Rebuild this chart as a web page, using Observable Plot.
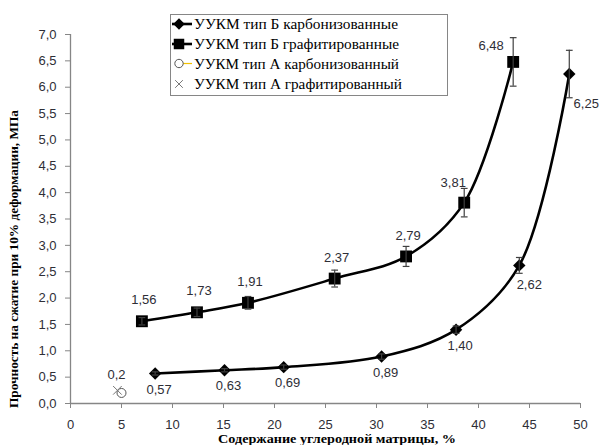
<!DOCTYPE html>
<html><head><meta charset="utf-8">
<script src="https://cdn.jsdelivr.net/npm/d3@7"></script>
<script src="https://cdn.jsdelivr.net/npm/@observablehq/plot@0.6"></script>
<style>html,body{margin:0;padding:0;background:#fff;}</style>
</head><body><div id="chart"></div>
<script>
// ---- data ----
const carbX   = [8.3, 15.1, 20.9, 30.5, 37.8, 44.0, 48.9];
const carbY   = [0.57, 0.63, 0.69, 0.89, 1.40, 2.62, 6.25];
const carbErr = [0.03, 0.03, 0.04, 0.05, 0.07, 0.15, 0.45];
const graphX   = [7.0, 12.4, 17.4, 25.9, 32.9, 38.6, 43.4];
const graphY   = [1.56, 1.73, 1.91, 2.37, 2.79, 3.81, 6.48];
const graphErr = [0.07, 0.08, 0.12, 0.16, 0.19, 0.27, 0.46];
const aCarbX = [5.0],  aCarbY = [0.2];
const aGraphX = [4.6], aGraphY = [0.25];
const seriesNames = [
  "УУКМ тип Б карбонизованные",
  "УУКМ тип Б графитированные",
  "УУКМ тип А карбонизованный",
  "УУКМ тип А графитированный"
];
const xTicks = [0, 5, 10, 15, 20, 25, 30, 35, 40, 45, 50];
const yTicks = [0, 0.5, 1, 1.5, 2, 2.5, 3, 3.5, 4, 4.5, 5, 5.5, 6, 6.5, 7];
const xTitle = "Содержание углеродной матрицы, %";
const yTitle = "Прочность на сжатие при 10% деформации, МПа";

// ---- tables ----
const mk = (xs, ys, es) => xs.map((x, i) => ({x, y: ys[i], lo: ys[i] - (es ? es[i] : 0), hi: ys[i] + (es ? es[i] : 0)}));
const carb = mk(carbX, carbY, carbErr);
const graph = mk(graphX, graphY, graphErr);
const aCarb = mk(aCarbX, aCarbY);
const aGraph = mk(aGraphX, aGraphY);
const fmt2 = d => d.toFixed(2).replace(".", ",");
const fmtA = d => String(d).replace(".", ",");

const cap = {draw(ctx, size) { const w = Math.sqrt(size) / 2; ctx.moveTo(-w, 0); ctx.lineTo(w, 0); }};
const labelFill = "#2e2e36";
const axisGray = "#868686";
const errColor = "#404040";

const lab = (data, fmt, dx, dy) => Plot.text(data, {x: "x", y: "y", text: d => fmt(d.y), dx, dy, fill: labelFill, fontSize: 13});

const chart = Plot.plot({
  width: 601, height: 445,
  marginLeft: 70, marginRight: 21, marginTop: 34, marginBottom: 42,
  style: {fontFamily: "'Liberation Sans', Arial, sans-serif", fontSize: "13px", background: "#fff", overflow: "visible"},
  x: {domain: [0, 50]},
  y: {domain: [0, 7]},
  marks: [
    Plot.axisX({ticks: xTicks, tickSize: 5, tickPadding: 11, tickFormat: d => String(d), label: null, stroke: axisGray, fill: labelFill, fontSize: 13}),
    Plot.axisY({ticks: yTicks, tickSize: 5, tickPadding: 9, tickFormat: d => d.toFixed(1).replace(".", ","), label: null, stroke: axisGray, fill: labelFill, fontSize: 13}),
    Plot.ruleY([0], {stroke: axisGray, strokeWidth: 1.3}),
    Plot.ruleX([0], {stroke: axisGray, strokeWidth: 1.3}),
    Plot.line(graph, {x: "x", y: "y", curve: "catmull-rom", stroke: "#000", strokeWidth: 2.6}),
    Plot.line(carb, {x: "x", y: "y", curve: "catmull-rom", stroke: "#000", strokeWidth: 2.6}),
    Plot.dot(graph, {x: "x", y: "y", symbol: "square", r: 6.7, fill: "#000", stroke: "none"}),
    Plot.dot(carb, {x: "x", y: "y", symbol: d3.symbolDiamond2, r: 5.6, fill: "#000", stroke: "none"}),
    Plot.ruleX(graph, {x: "x", y1: "lo", y2: "hi", stroke: errColor, strokeWidth: 1.2}),
    Plot.ruleX(carb, {x: "x", y1: "lo", y2: "hi", stroke: errColor, strokeWidth: 1.2}),
    Plot.dot(graph, {x: "x", y: "hi", symbol: cap, r: 3.8, stroke: errColor, strokeWidth: 1.2}),
    Plot.dot(graph, {x: "x", y: "lo", symbol: cap, r: 3.8, stroke: errColor, strokeWidth: 1.2}),
    Plot.dot(carb, {x: "x", y: "hi", symbol: cap, r: 3.8, stroke: errColor, strokeWidth: 1.2}),
    Plot.dot(carb, {x: "x", y: "lo", symbol: cap, r: 3.8, stroke: errColor, strokeWidth: 1.2}),
    Plot.dot(aCarb, {x: "x", y: "y", symbol: "circle", r: 4.5, stroke: "#555", strokeWidth: 1, fill: "none"}),
    Plot.dot(aGraph, {x: "x", y: "y", symbol: d3.symbolTimes, r: 4, stroke: "#777", strokeWidth: 1}),
    // data labels
    lab(graph.slice(0, 5), fmt2, 2, -21),
    lab(graph.slice(5, 6), fmt2, -11, -20),
    lab(graph.slice(6, 7), fmt2, -22, -16),
    lab(carb.slice(0, 5), fmt2, 4, 16),
    lab(carb.slice(5, 6), fmt2, 10, 19),
    lab(carb.slice(6, 7), fmt2, 17, 30),
    lab(aCarb, fmtA, -5, -18)
  ]
});

const svg = d3.select(chart);
// axis titles
svg.append("text")
  .attr("x", 337).attr("y", 438).attr("dy", "0.35em")
  .attr("text-anchor", "middle")
  .attr("textLength", 238).attr("lengthAdjust", "spacingAndGlyphs")
  .style("font-family", "'Liberation Serif', 'Times New Roman', serif")
  .style("font-weight", "bold").style("font-size", "13.5px").attr("fill", "#000")
  .text(xTitle);
svg.append("text")
  .attr("transform", "translate(13.5,259) rotate(-90)")
  .attr("dy", "0.35em").attr("text-anchor", "middle")
  .attr("textLength", 298).attr("lengthAdjust", "spacingAndGlyphs")
  .style("font-family", "'Liberation Serif', 'Times New Roman', serif")
  .style("font-weight", "bold").style("font-size", "13.5px").attr("fill", "#000")
  .text(yTitle);

// legend
const lg = svg.append("g").attr("text-anchor", "start");
lg.append("rect").attr("x", 170.5).attr("y", 14.5).attr("width", 277).attr("height", 81)
  .attr("fill", "#fff").attr("stroke", axisGray).attr("stroke-width", 1);
const rowsY = [24, 44, 63.5, 84];
const lens = [204, 205, 205, 208];
rowsY.forEach((yy, i) => {
  const g = lg.append("g");
  if (i === 0 || i === 1) {
    g.append("line").attr("x1", 172).attr("x2", 192).attr("y1", yy).attr("y2", yy).attr("stroke", "#000").attr("stroke-width", 2.6);
  }
  if (i === 2) {
    g.append("line").attr("x1", 176).attr("x2", 192).attr("y1", yy).attr("y2", yy).attr("stroke", "#F2C200").attr("stroke-width", 1.2);
  }
  const sym = [d3.symbolDiamond2, d3.symbolSquare, d3.symbolCircle, d3.symbolTimes][i];
  const size = [85, 110, 55, 40][i];
  const p = g.append("path").attr("d", d3.symbol(sym, size)()).attr("transform", `translate(179,${yy})`);
  if (i < 2) p.attr("fill", "#000");
  else if (i === 2) p.attr("fill", "#fff").attr("stroke", "#555");
  else p.attr("fill", "none").attr("stroke", "#777");
  g.append("text").attr("x", 194).attr("y", yy).attr("dy", "0.35em")
    .attr("text-anchor", "start")
    .attr("textLength", lens[i]).attr("lengthAdjust", "spacingAndGlyphs")
    .style("font-family", "'Liberation Serif', 'Times New Roman', serif")
    .style("font-size", "15px").attr("fill", "#000")
    .text(seriesNames[i]);
});

document.getElementById("chart").appendChild(chart);
</script>
</body></html>
